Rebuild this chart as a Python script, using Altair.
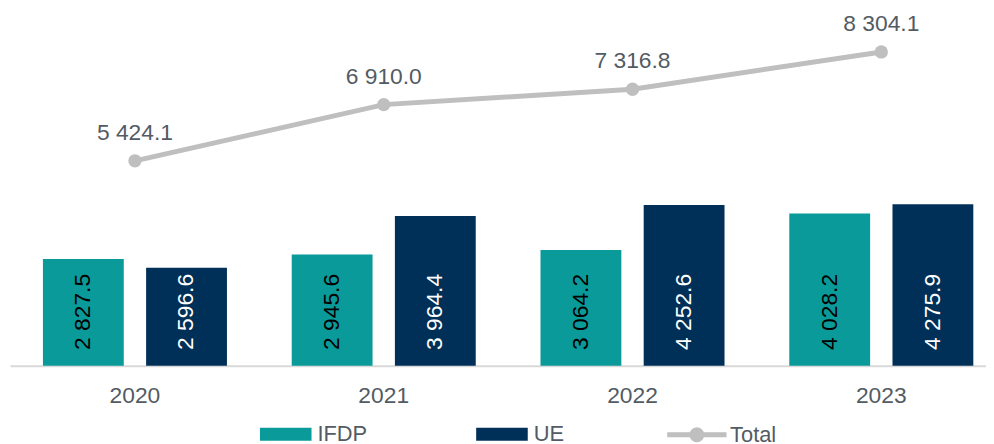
import math
import altair as alt
import pandas as pd

years = ["2020", "2021", "2022", "2023"]
ifdp = [2827.5, 2945.6, 3064.2, 4028.2]
ue = [2596.6, 3964.4, 4252.6, 4275.9]
total = [5424.1, 6910.0, 7316.8, 8304.1]
series = ["IFDP", "UE"]
bar_colors = ["#0A9A9A", "#003057"]
label_colors = ["#000000", "#FFFFFF"]
line_color = "#BFBFBF"
text_color = "#535B63"
FONT = "Liberation Sans"


def fmt(v):
    return f"{v:,.1f}".replace(",", " ")


rows = []
for i, y in enumerate(years):
    for s, vals, lc in zip(series, [ifdp, ue], label_colors):
        rows.append({"year": y, "series": s, "value": vals[i], "label": fmt(vals[i]),
                     "lc": lc, "zero": 0})
bars_df = pd.DataFrame(rows)
tot_df = pd.DataFrame({"year": years, "value": total, "label": [fmt(v) for v in total],
                       "s": ["Total"] * len(years)})

x_enc = alt.X(
    "year:N",
    sort=years,
    scale=alt.Scale(paddingInner=0.2603, paddingOuter=0.0917, align=0.722),
    axis=alt.Axis(title=None, labelAngle=0, ticks=False, labelPadding=19,
                  labelFontSize=23, labelFont=FONT, labelColor=text_color,
                  domainColor="#D9D9D9", domainWidth=2, grid=False),
)
xoff = alt.XOffset("series:N", sort=series,
                   scale=alt.Scale(domain=series, paddingInner=0.2166, paddingOuter=0))
y_scale = alt.Scale(domain=[0, 9420], nice=False, zero=True)

rect_path = "M-2,-0.5H2V0.5H-2Z"
r = 0.385
circ = "M" + "L".join(
    f"{r*math.cos(2*math.pi*k/20):.3f},{r*math.sin(2*math.pi*k/20):.3f}" for k in range(20)
) + "Z"
total_path = "M-2.3,0H2.3" + circ

bars = alt.Chart(bars_df).mark_bar().encode(
    x=x_enc,
    xOffset=xoff,
    y=alt.Y("value:Q", scale=y_scale, axis=None),
    fill=alt.Fill("series:N", scale=alt.Scale(domain=series, range=bar_colors),
                  legend=alt.Legend(title=None, orient="none", legendX=265, legendY=415,
                                    direction="horizontal", symbolType=rect_path,
                                    symbolSize=676, symbolStrokeWidth=0,
                                    labelFontSize=22, labelFont=FONT, labelColor=text_color,
                                    labelOffset=19, columnPadding=109)),
)

bar_labels = alt.Chart(bars_df).mark_text(
    angle=270, align="left", baseline="middle", dx=16, fontSize=23, font=FONT
).encode(
    x=x_enc,
    xOffset=xoff,
    y=alt.Y("zero:Q", scale=y_scale, axis=None),
    text="label:N",
    color=alt.Color("lc:N", scale=None),
)

line = alt.Chart(tot_df).mark_line(strokeWidth=5).encode(
    x=x_enc,
    y=alt.Y("value:Q", scale=y_scale, axis=None),
    stroke=alt.Stroke("s:N", scale=alt.Scale(domain=["Total"], range=[line_color]),
                      legend=alt.Legend(title=None, orient="none", legendX=677, legendY=413,
                                        symbolType=total_path, symbolSize=676,
                                        symbolStrokeWidth=5, symbolFillColor=line_color,
                                        symbolStrokeColor=line_color,
                                        labelFontSize=22, labelFont=FONT, labelColor=text_color,
                                        labelOffset=18)),
)

points = alt.Chart(tot_df).mark_point(filled=True, size=180, opacity=1, color=line_color).encode(
    x=x_enc,
    y=alt.Y("value:Q", scale=y_scale, axis=None),
)

tot_labels = alt.Chart(tot_df).mark_text(
    dy=-21, baseline="alphabetic", fontSize=23, font=FONT, color=text_color
).encode(
    x=x_enc,
    y=alt.Y("value:Q", scale=y_scale, axis=None),
    text="label:N",
)

chart = alt.layer(bars, bar_labels, line, points, tot_labels).properties(
    width=984, height=359,
    autosize=alt.AutoSizeParams(type="none"),
    padding={"left": 2, "top": 0, "right": 0, "bottom": 77},
    background="white",
).configure_view(stroke=None)

chart.save("out.html", embed_options={"renderer": "svg", "actions": False})
